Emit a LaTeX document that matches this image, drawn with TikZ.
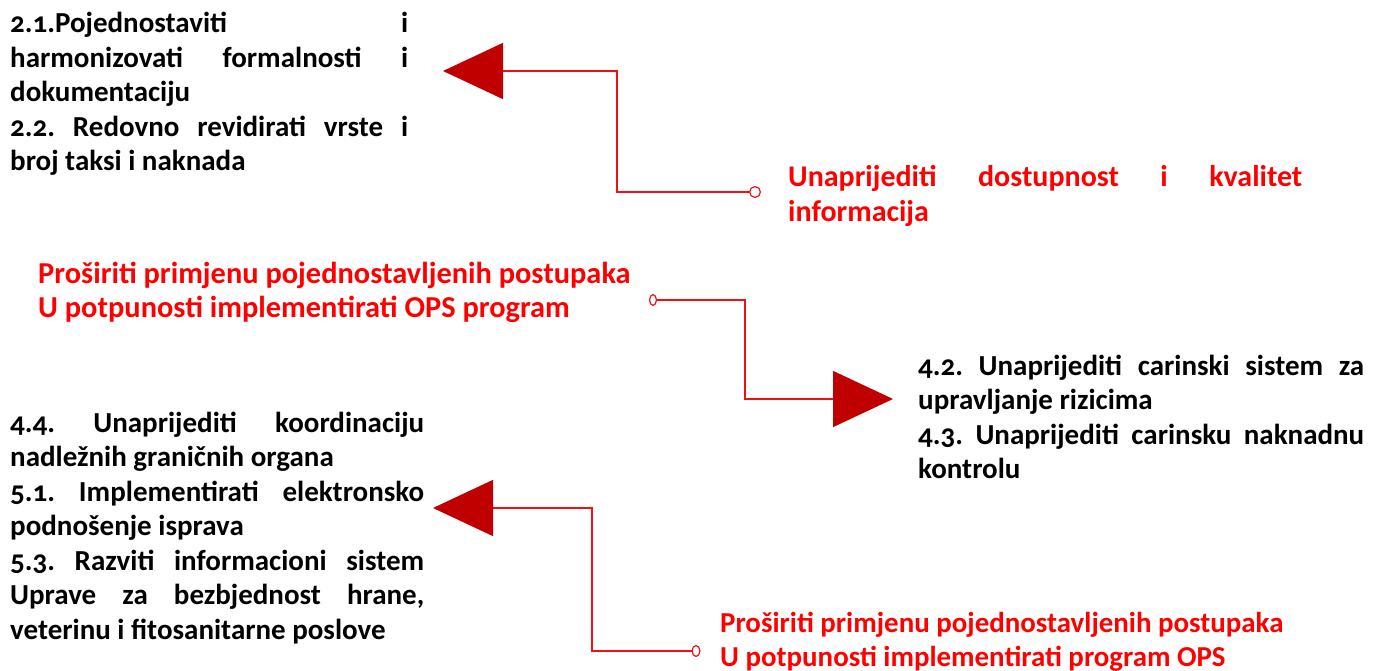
\documentclass[tikz,border=0pt]{standalone}
\usepackage{fontspec}
\setmainfont{Carlito}[Numbers=OldStyle]
\usepackage{xcolor}
\usetikzlibrary{arrows.meta,positioning}
\definecolor{txtred}{HTML}{FF0000}
\definecolor{linkred}{HTML}{F01010}
\definecolor{tipred}{HTML}{C00000}
\frenchspacing
\tikzset{
  blk/.style    = {anchor=base west, inner sep=0pt, align=justify,
                   font=\fontsize{29}{34.5}\selectfont\bfseries},
  blkred/.style = {blk, text=txtred, font=\fontsize{#1}{34.5}\selectfont\bfseries},
  blkred/.default = 30,
  link/.style   = {draw=linkred, line width=1.4pt,
                   {Circle[open,fill=white,length=#1,width=12pt,line width=1.2pt]}-{Triangle[length=60pt,width=56pt,color=tipred]}},
  link/.default = 12pt,
}
\begin{document}
\begin{tikzpicture}[x=1pt,y=-1pt]
  \useasboundingbox (0,0) rectangle (1384,671);

  \node[blk, text width=398pt] (doc) at (10,33)
    {2.1.Pojednostaviti i\linebreak harmonizovati formalnosti i\linebreak dokumentaciju\\
     2.2. Redovno revidirati vrste i\linebreak broj taksi i naknada};
  \node[blkred, text width=514pt] (info) at (788,187)
    {Unaprijediti dostupnost i kvalitet\linebreak informacija};
  \node[blkred=30.4, text width=640pt, align=flush left] (ops1) at (38,283)
    {Proširiti primjenu pojednostavljenih postupaka\\U potpunosti implementirati OPS program};
  \node[blk, text width=446pt] (risk) at (918,375)
    {4.2. Unaprijediti carinski sistem za\linebreak upravljanje rizicima\\
     4.3. Unaprijediti carinsku naknadnu\linebreak kontrolu};
  \node[blk, text width=414pt] (coord) at (10,432)
    {4.4. Unaprijediti koordinaciju\linebreak nadležnih graničnih organa\\
     5.1. Implementirati elektronsko\linebreak podnošenje isprava\\
     5.3. Razviti informacioni sistem\linebreak Uprave za bezbjednost hrane,\linebreak veterinu i fitosanitarne poslove};
  \node[blkred=28.9, text width=640pt, align=flush left] (ops2) at (720,632)
    {Proširiti primjenu pojednostavljenih postupaka\\U potpunosti implementirati program OPS};

  % connector ends
  \coordinate (o1) at (761,192);
  \coordinate (t1) at (443,71);
  \coordinate (o2) at (649,300);
  \coordinate (t2) at (893,399);
  \coordinate (o3) at (700.5,651);
  \coordinate (t3) at (433,508);

  \draw[link] (o1) -- ++(-144,0) |- (t1);
  \draw[link=8pt] (o2) -- ++(96,0) |- (t2);
  \draw[link=9pt] (o3) -- ++(-108.5,0) |- (t3);
\end{tikzpicture}
\end{document}
